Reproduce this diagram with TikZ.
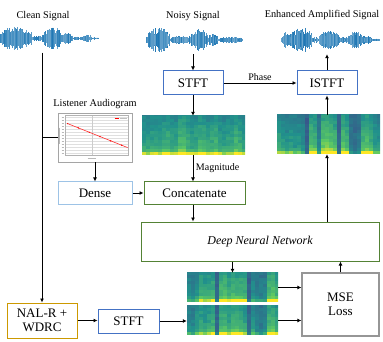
\documentclass[tikz,border=0pt]{standalone}
\usepackage{fontspec}
\setmainfont{Liberation Serif}
\usetikzlibrary{positioning,arrows.meta}

\definecolor{stftblue}{RGB}{68,114,196}
\definecolor{denseblue}{RGB}{157,195,230}
\definecolor{netgreen}{RGB}{84,130,53}
\definecolor{nalgold}{RGB}{204,153,0}
\definecolor{lossgray}{RGB}{150,150,150}
\definecolor{framegray}{RGB}{165,165,165}
\definecolor{waveblue}{RGB}{31,119,180}
\definecolor{vA}{RGB}{59,82,139}
\definecolor{vB}{RGB}{33,145,140}
\definecolor{vC}{RGB}{94,201,98}
\definecolor{vD}{RGB}{253,231,37}

\begin{document}
\begin{tikzpicture}[
        x=1pt, y=-1pt,
        >={Latex[length=4pt,width=4pt]},
        block/.style={rectangle, draw=#1, line width=1pt, fill=white, align=center, inner sep=0pt, font=\fontsize{13}{14.5}\selectfont},
        title/.style={inner sep=0pt, font=\fontsize{10.3}{12}\selectfont},
        lbl/.style={inner sep=1.5pt, font=\fontsize{10}{12}\selectfont},
        arrow/.style={->, line width=0.9pt},
        link/.style={line width=0.9pt},
        holder/.style={rectangle, inner sep=0pt},
        pics/wave/.style={code={
            \foreach \s/\e/\amp in {#1}{
                \pgfmathtruncatemacro\n{(\e-\s)/0.6}
                \foreach \k in {0,...,\n}{
                    \pgfmathsetmacro\t{\s+0.6*\k}
                    \pgfmathsetmacro\a{max(0.9,\amp*(0.45+0.55*rnd)*(0.5+0.5*sin(180*\k/(\n+1))))}
                    \pgfmathtruncatemacro\shade{65+35*rnd}
                    \draw[waveblue!\shade, line width=0.9pt] (\t,-\a) -- (\t,\a);
                }
            }}},
        pics/spectro/.style 2 args={code={
            \clip (#1.south west) rectangle (#1.north east);
            \foreach \e [count=\c from 0] in {#2}{
                \foreach \r in {0,...,13}{
                    \pgfmathsetmacro\v{max(0,min(1,\e*(1.15-0.04*\r)+\e*(0.65*(\r==0)+0.12*(\r==1))+0.12*(rnd-0.5)))}
                    \ifdim\v pt<0.4pt
                        \pgfmathtruncatemacro\p{\v/0.4*100}\def\cellcol{vB!\p!vA}%
                    \else\ifdim\v pt<0.75pt
                        \pgfmathtruncatemacro\p{(\v-0.4)/0.35*100}\def\cellcol{vC!\p!vB}%
                    \else
                        \pgfmathtruncatemacro\p{(\v-0.75)/0.25*100}\def\cellcol{vD!\p!vC}%
                    \fi\fi
                    \fill[\cellcol] (4*\c,-3*\r) rectangle ++(4.3,-3.3);
                }
            }}},
        pics/audioplot/.style={code={
            \foreach \yy in {5,8,...,41} \draw[gray!25, line width=0.2pt] (8,\yy) -- (71,\yy);
            \draw[gray!40, line width=0.2pt] (34,3) -- (34,43);
            \draw[gray!60, line width=0.3pt] (8,3) rectangle (71,43);
            \foreach \yy in {5,8,...,41} \draw[gray!55, line width=0.5pt] (4,\yy) -- (6.5,\yy);
            \draw[gray!55, line width=0.5pt] (1.5,15) -- (1.5,31);
            \draw[gray!55, line width=0.5pt] (30,46) -- (38,46);
            \draw[red!80, line width=0.6pt] (10,11) -- (70,35);
            \foreach \q in {0,0.18,...,1} \fill[red] (10+60*\q,11+24*\q) circle (0.7);
            \draw[red, line width=0.5pt] (57,6) -- (61,6);
            \draw[gray!50, line width=0.4pt] (62,6) -- (69,6);
            }}
    ]
    \pgfmathsetseed{11}
    \useasboundingbox (0,0) rectangle (383,342);

    % signals on top
    \node[title] (cleantitle) at (43,16) {Clean Signal};
    \node[title] (noisytitle) at (193,16) {Noisy Signal};
    \node[title] (enhtitle) at (322,15) {Enhanced Amplified Signal};

    \node[holder, minimum width=99pt, minimum height=28pt] (cleanwave) at (49.5,38.5) {};
    \node[holder, minimum width=96pt, minimum height=28pt] (noisywave) at (195,40) {};
    \node[holder, minimum width=98pt, minimum height=28pt] (enhwave) at (331,40) {};
    \pic at (cleanwave.west) {wave={0/32/12.5,32/43/3,43/62/12,62/73/6.5,73/83/2,83/92/4.5,92/99/1.2}};
    \pic at (noisywave.west) {wave={0/23/13,23/43/4.5,43/61/11.5,61/71/6.5,71/96/3.5}};
    \pic at (enhwave.west) {wave={0/10/8,10/30/14,30/38/3,38/58/10,58/65/3,65/83/9,83/90/4,90/98/1.5}};

    % noisy branch
    \node[block=stftblue, minimum width=60pt, minimum height=24pt] (stft) at (193,83) {STFT};
    \node[block=stftblue, minimum width=60pt, minimum height=24pt] (istft) at (327,83) {ISTFT};
    \node[holder, minimum width=103pt, minimum height=39pt] (noisyspec) at (193.5,135.5) {};
    \node[holder, minimum width=103pt, minimum height=39pt] (enhspec) at (328.5,134.5) {};
    \pic at (noisyspec.south west) {spectro={noisyspec}{0.5,0.48,0.5,0.52,0.5,0.55,0.58,0.52,0.5,0.62,0.65,0.55,0.5,0.52,0.6,0.58,0.5,0.55,0.6,0.5,0.48,0.5,0.52,0.6,0.55,0.5}};
    \pic at (enhspec.south west) {spectro={enhspec}{0.5,0.45,0.4,0.45,0.4,0.42,0.35,0.12,0.65,0.6,0.3,0.7,0.72,0.68,0.6,0.15,0.65,0.6,0.25,0.2,0.25,0.6,0.65,0.55,0.45,0.4}};

    % listener branch
    \node[block=framegray, line width=0.8pt, minimum width=74pt, minimum height=49pt] (audiogram) at (95,137.5) {};
    \pic at (audiogram.north west) {audioplot};
    \node[title, above=4pt of audiogram] (audiotitle) {Listener Audiogram};
    \node[block=denseblue, minimum width=74pt, minimum height=22pt] (dense) at (95,193) {Dense};
    \node[block=netgreen, minimum width=101pt, minimum height=22pt] (concat) at (194.5,193) {Concatenate};
    \node[block=netgreen, minimum width=238pt, minimum height=39pt, font=\fontsize{12}{14}\selectfont\itshape] (dnn) at (260,241.5) {Deep Neural Network};

    % training target
    \node[holder, minimum width=91pt, minimum height=29pt] (predspec) at (232.5,287.5) {};
    \node[holder, minimum width=91pt, minimum height=29pt] (refspec) at (232.5,320.5) {};
    \pic at (predspec.south west) {spectro={predspec}{0.35,0.3,0.4,0.55,0.5,0.5,0.55,0.15,0.6,0.62,0.55,0.6,0.58,0.6,0.55,0.12,0.35,0.3,0.28,0.3,0.62,0.65,0.55}};
    \pic at (refspec.south west) {spectro={refspec}{0.35,0.32,0.45,0.5,0.45,0.5,0.55,0.15,0.58,0.6,0.5,0.62,0.6,0.55,0.5,0.15,0.4,0.3,0.25,0.3,0.6,0.62,0.5}};
    \node[block=lossgray, line width=1.3pt, minimum width=77pt, minimum height=63pt] (mse) at (340.5,304.5) {MSE\\Loss};
    \node[block=nalgold, minimum width=70pt, minimum height=35pt] (nalr) at (42,320.5) {NAL-R +\\WDRC};
    \node[block=stftblue, minimum width=61pt, minimum height=24pt] (stftref) at (128.5,321) {STFT};

    \coordinate (cleantap) at (cleanwave.south -| nalr.north);
    \draw[arrow] (cleantap) -- (nalr.north);
    \draw[link] (audiogram.west -| nalr.north) -- (audiogram.west);

    \draw[arrow] (noisywave.south -| stft.north) -- (stft.north);
    \draw[arrow] (stft.east) -- node[lbl, above] {Phase} (istft.west);
    \draw[arrow] (stft.south) -- (stft.south |- noisyspec.north);
    \draw[arrow] (noisyspec.south -| stft.south) -- node[lbl, right, xshift=1pt] {Magnitude} (concat.north -| stft.south);
    \draw[arrow] (audiogram.south) -- (dense.north);
    \draw[arrow] (dense.east) -- (concat.west);
    \draw[arrow] (concat.south -| stft.south) -- (dnn.north -| stft.south);

    \draw[arrow] (dnn.north -| istft.south) -- (enhspec.south -| istft.south);
    \draw[arrow] (enhspec.north -| istft.south) -- (istft.south);
    \draw[arrow] (istft.north) -- (enhwave.south -| istft.north);

    \draw[arrow] (dnn.south -| predspec.north) -- (predspec.north);
    \draw[arrow] (predspec.east) -- (predspec.east -| mse.west);
    \draw[arrow] (refspec.east) -- (refspec.east -| mse.west);
    \draw[arrow] (mse.north) -- (mse.north |- dnn.south);
    \draw[arrow] (nalr.east) -- (nalr.east -| stftref.west);
    \draw[arrow] (stftref.east) -- (stftref.east -| refspec.west);

    \end{tikzpicture}
\end{document}
